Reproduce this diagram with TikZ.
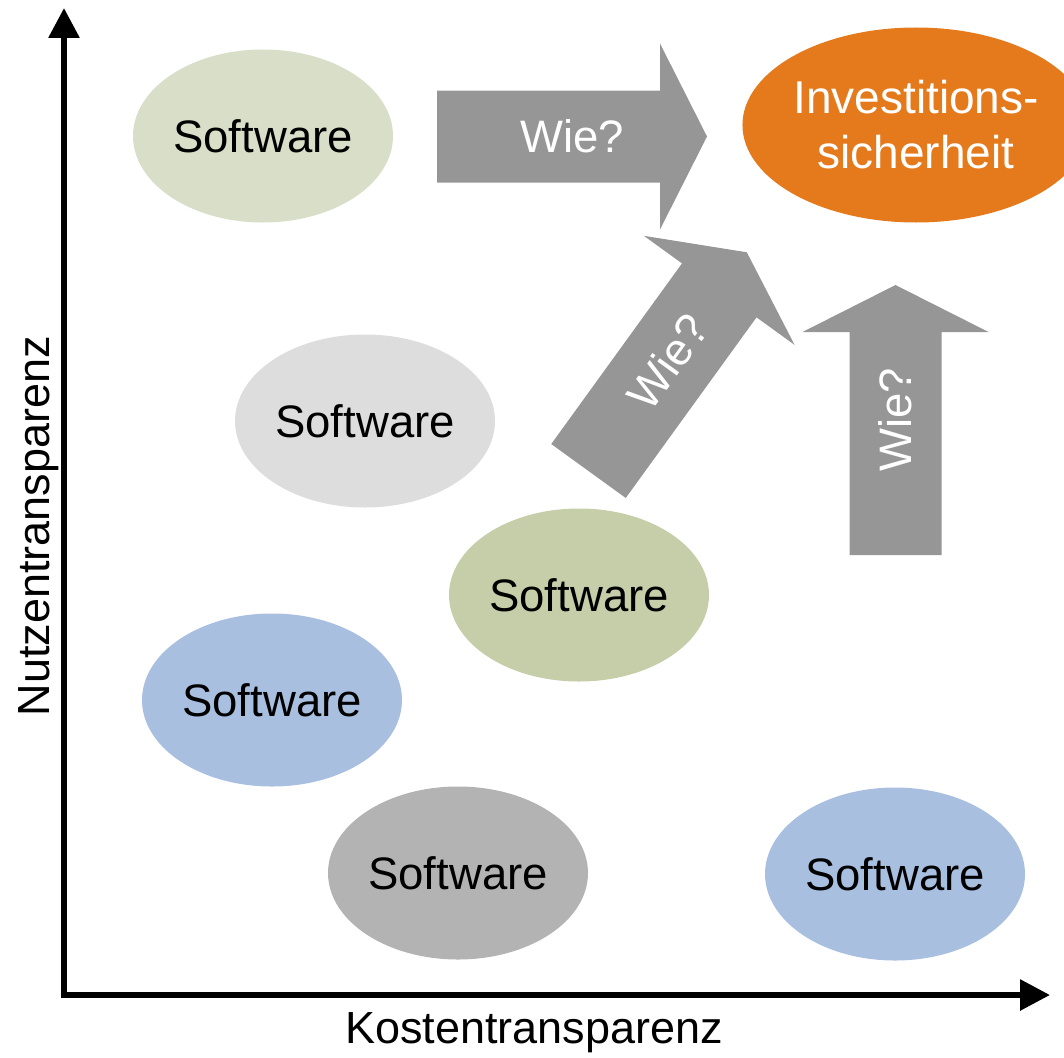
\documentclass[tikz,border=0pt]{standalone}
\usepackage{fontspec}
\setmainfont{Liberation Sans}
\usetikzlibrary{arrows.meta,shapes.geometric}
\definecolor{cGreenA}{HTML}{D8DEC7}
\definecolor{cGreyA}{HTML}{DDDDDD}
\definecolor{cGreenB}{HTML}{C5CEA9}
\definecolor{cBlue}{HTML}{A8BFE0}
\definecolor{cGreyB}{HTML}{B3B3B3}
\definecolor{cOrange}{HTML}{E57A1C}
\definecolor{cArrow}{HTML}{969696}
\newcommand\wiearrow[4]{%
  \begin{scope}[shift={(#1,#2)}, rotate=#3]
    \fill[arrowbody] (0,-46) -- (223,-46) -- (223,-93) -- (270,0) -- (223,93) -- (223,46) -- (0,46) -- cycle;
    \node[arrowtext, rotate=#3] (#4) at (135,0) {Wie?};
  \end{scope}}
\begin{document}
\begin{tikzpicture}[x=1pt,y=-1pt,
  blob/.style={ellipse, minimum width=260pt, minimum height=173pt, inner sep=0pt,
    font=\fontsize{45.5}{54}\selectfont},
  arrowbody/.style={fill=cArrow},
  arrowtext/.style={text=white, font=\fontsize{45.5}{54}\selectfont, inner sep=0pt},
  axislabel/.style={font=\fontsize{45}{53}\selectfont, inner sep=0pt},
  axisline/.style={line width=6pt, {Triangle[length=30pt,width=30pt]}-{Triangle[length=30pt,width=30pt]}}]
\useasboundingbox (0,0) rectangle (1064,1057);

% axes
\coordinate (ytop) at (64,8);
\coordinate (origin) at (64,995);
\coordinate (xend) at (1050,995);
\draw[axisline] (ytop) -- (origin) -- (xend);
\node[axislabel, anchor=base] (xlabel) at (534,1043) {Kostentransparenz};
\node[axislabel, anchor=base, rotate=90] (ylabel) at (49,526) {Nutzentransparenz};

% ellipses
\node[blob, fill=cGreenA] (s1) at (263,136) {Software};
\node[blob, fill=cGreyA] (s2) at (365,421) {Software};
\node[blob, fill=cGreenB] (s3) at (579,595) {Software};
\node[blob, fill=cBlue] (s4) at (272,700) {Software};
\node[blob, fill=cGreyB] (s5) at (458,873) {Software};
\node[blob, fill=cBlue] (s6) at (895,874) {Software};
\node[blob, fill=cOrange, text=white, minimum width=344pt, minimum height=195pt,
  align=center, font=\fontsize{46}{55}\selectfont] (goal) at (916,125) {Investitions-\\sicherheit};

% arrows
\wiearrow{437}{136.5}{0}{w1}
\wiearrow{588.5}{471}{54.1}{w2}
\wiearrow{895.5}{555}{90}{w3}
\end{tikzpicture}
\end{document}
